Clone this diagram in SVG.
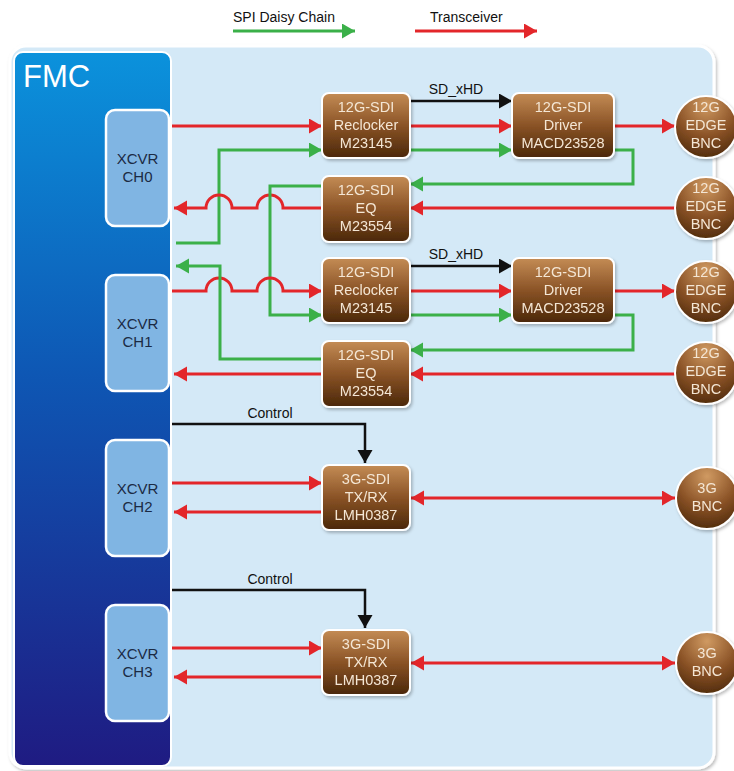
<svg xmlns="http://www.w3.org/2000/svg" width="734" height="771" viewBox="0 0 734 771">
<style>
text{font-family:"Liberation Sans",Arial,sans-serif}
.lbl{font-size:14px;fill:#111}
.xt{font-size:15px;fill:#1b2a44;text-anchor:middle}
.bt{font-size:14.5px;fill:#f4e6d4;text-anchor:middle}
.box{fill:url(#brown);stroke:#fff;stroke-width:2}
.bnc{fill:url(#brownR);stroke:#fff;stroke-width:2}
.xcvr{fill:#80b5e3;stroke:#fff;stroke-width:2.5}
.r{stroke:#e3262a;stroke-width:3;fill:none}
.g{stroke:#3bb049;stroke-width:3;fill:none}
.k{stroke:#111;stroke-width:2.5;fill:none}
.ra{marker-end:url(#mr)}
.ga{marker-end:url(#mg)}
.ka{marker-end:url(#mk)}
.rd{marker-start:url(#mr);marker-end:url(#mr)}
</style>
<defs>
<linearGradient id="brown" x1="0" y1="0" x2="0" y2="1">
<stop offset="0" stop-color="#c48c55"/>
<stop offset="0.5" stop-color="#8a5326"/>
<stop offset="1" stop-color="#4a2709"/>
</linearGradient>
<radialGradient id="brownR" cx="0.5" cy="0.15" r="0.9">
<stop offset="0" stop-color="#d09a62"/>
<stop offset="0.55" stop-color="#8a5226"/>
<stop offset="1" stop-color="#4a2709"/>
</radialGradient>
<linearGradient id="fmc" x1="0" y1="0" x2="0" y2="1">
<stop offset="0" stop-color="#0b92dc"/>
<stop offset="0.45" stop-color="#0e57b4"/>
<stop offset="1" stop-color="#1f1b82"/>
</linearGradient>
<filter id="sh" x="-10%" y="-10%" width="130%" height="130%">
<feDropShadow dx="1.5" dy="2" stdDeviation="1.5" flood-color="#000" flood-opacity="0.25"/>
</filter>
<marker id="mr" markerUnits="userSpaceOnUse" markerWidth="14" markerHeight="16" refX="13" refY="7.5" orient="auto-start-reverse"><path d="M0,0 L13,7.5 L0,15 z" fill="#e3262a"/></marker>
<marker id="mg" markerUnits="userSpaceOnUse" markerWidth="14" markerHeight="16" refX="13" refY="7.5" orient="auto-start-reverse"><path d="M0,0 L13,7.5 L0,15 z" fill="#3bb049"/></marker>
<marker id="mk" markerUnits="userSpaceOnUse" markerWidth="14" markerHeight="16" refX="13" refY="7.5" orient="auto-start-reverse"><path d="M0,0 L13,7.5 L0,15 z" fill="#111"/></marker>
</defs>
<rect width="734" height="771" fill="#fff"/>
<!-- legend -->
<g id="legend">
<text class="lbl" x="233" y="22">SPI Daisy Chain</text>
<line class="g ga" x1="233" y1="31" x2="355" y2="31"/>
<text class="lbl" x="430" y="22">Transceiver</text>
<line class="r ra" x1="415" y1="31" x2="537" y2="31"/>
</g>
<!-- board panel -->
<rect id="panel" x="10" y="46" width="704" height="722" rx="16" fill="#d4e9f7" stroke="#fff" stroke-width="3" filter="url(#sh)"/>
<g id="fmc-block">
<rect x="14" y="52" width="157" height="714" rx="9" fill="url(#fmc)" stroke="#fff" stroke-width="2"/>
<text x="23" y="87" font-size="31" fill="#fff">FMC</text>
</g>
<g id="xcvr0"><rect class="xcvr" x="106" y="110" width="63" height="116" rx="9"/><text class="xt" x="137.5" y="164">XCVR</text><text class="xt" x="137.5" y="182">CH0</text></g>
<g id="xcvr1"><rect class="xcvr" x="106" y="275" width="63" height="116" rx="9"/><text class="xt" x="137.5" y="329">XCVR</text><text class="xt" x="137.5" y="347">CH1</text></g>
<g id="xcvr2"><rect class="xcvr" x="106" y="440" width="63" height="116" rx="9"/><text class="xt" x="137.5" y="494">XCVR</text><text class="xt" x="137.5" y="512">CH2</text></g>
<g id="xcvr3"><rect class="xcvr" x="106" y="605" width="63" height="116" rx="9"/><text class="xt" x="137.5" y="659">XCVR</text><text class="xt" x="137.5" y="677">CH3</text></g>

<!-- connectors -->
<g id="connectors">
<!-- group 0 -->
<line class="r ra" x1="172" y1="126" x2="322" y2="126"/>
<polyline class="g ga" points="176,243 219,243 219,150 322,150"/>
<line class="k ka" x1="410" y1="101" x2="512" y2="101"/>
<line class="r ra" x1="410" y1="126" x2="512" y2="126"/>
<line class="g ga" x1="410" y1="150" x2="512" y2="150"/>
<line class="r ra" x1="614" y1="126" x2="675" y2="126"/>
<polyline class="g ga" points="614,150 633,150 633,184 410,184"/>
<line class="r ra" x1="675" y1="208" x2="410" y2="208"/>
<path class="r ra" d="M322,208 H283 A13,13 0 0 0 257,208 H232 A13,13 0 0 0 206,208 H174"/>
<polyline class="g ga" points="322,186 270,186 270,315 322,315"/>
<!-- group 1 -->
<path class="r ra" d="M172,291 H206 A13,13 0 0 1 232,291 H257 A13,13 0 0 1 283,291 H322"/>
<polyline class="g ga" points="322,359 220,359 220,266 176,266"/>
<line class="k ka" x1="410" y1="266" x2="512" y2="266"/>
<line class="r ra" x1="410" y1="291" x2="512" y2="291"/>
<line class="g ga" x1="410" y1="315" x2="512" y2="315"/>
<line class="r ra" x1="614" y1="291" x2="675" y2="291"/>
<polyline class="g ga" points="614,315 633,315 633,350 410,350"/>
<line class="r ra" x1="675" y1="374" x2="410" y2="374"/>
<line class="r ra" x1="322" y1="374" x2="174" y2="374"/>
<!-- group 2 -->
<polyline class="k ka" points="172,424 365,424 365,463"/>
<line class="r ra" x1="172" y1="483" x2="322" y2="483"/>
<line class="r ra" x1="322" y1="512" x2="174" y2="512"/>
<line class="r rd" x1="411" y1="498" x2="675" y2="498"/>
<!-- group 3 -->
<polyline class="k ka" points="172,590 365,590 365,628"/>
<line class="r ra" x1="172" y1="648" x2="322" y2="648"/>
<line class="r ra" x1="322" y1="677" x2="174" y2="677"/>
<line class="r rd" x1="411" y1="663" x2="675" y2="663"/>
<text class="lbl" x="456" y="94" text-anchor="middle">SD_xHD</text>
<text class="lbl" x="456" y="259" text-anchor="middle">SD_xHD</text>
<text class="lbl" x="270" y="418" text-anchor="middle">Control</text>
<text class="lbl" x="270" y="584" text-anchor="middle">Control</text>
</g>

<!-- brown nodes -->
<g id="reclocker0" filter="url(#sh)"><rect class="box" x="322" y="93" width="88" height="65" rx="7"/><text class="bt" x="366" y="112">12G-SDI</text><text class="bt" x="366" y="130">Reclocker</text><text class="bt" x="366" y="148">M23145</text></g>
<g id="driver0" filter="url(#sh)"><rect class="box" x="512" y="93" width="102" height="65" rx="7"/><text class="bt" x="563" y="112">12G-SDI</text><text class="bt" x="563" y="130">Driver</text><text class="bt" x="563" y="148">MACD23528</text></g>
<g id="eq0" filter="url(#sh)"><rect class="box" x="322" y="176" width="88" height="66" rx="7"/><text class="bt" x="366" y="195">12G-SDI</text><text class="bt" x="366" y="213">EQ</text><text class="bt" x="366" y="231">M23554</text></g>
<g id="reclocker1" filter="url(#sh)"><rect class="box" x="322" y="258" width="88" height="65" rx="7"/><text class="bt" x="366" y="277">12G-SDI</text><text class="bt" x="366" y="295">Reclocker</text><text class="bt" x="366" y="313">M23145</text></g>
<g id="driver1" filter="url(#sh)"><rect class="box" x="512" y="258" width="102" height="65" rx="7"/><text class="bt" x="563" y="277">12G-SDI</text><text class="bt" x="563" y="295">Driver</text><text class="bt" x="563" y="313">MACD23528</text></g>
<g id="eq1" filter="url(#sh)"><rect class="box" x="322" y="341" width="88" height="66" rx="7"/><text class="bt" x="366" y="360">12G-SDI</text><text class="bt" x="366" y="378">EQ</text><text class="bt" x="366" y="396">M23554</text></g>
<g id="sdi3g0" filter="url(#sh)"><rect class="box" x="322" y="465" width="88" height="65" rx="7"/><text class="bt" x="366" y="484">3G-SDI</text><text class="bt" x="366" y="502">TX/RX</text><text class="bt" x="366" y="520">LMH0387</text></g>
<g id="sdi3g1" filter="url(#sh)"><rect class="box" x="322" y="630" width="88" height="65" rx="7"/><text class="bt" x="366" y="649">3G-SDI</text><text class="bt" x="366" y="667">TX/RX</text><text class="bt" x="366" y="685">LMH0387</text></g>

<!-- BNC circles -->
<g id="bnc0" filter="url(#sh)"><circle class="bnc" cx="706" cy="127" r="31"/><text class="bt" x="706" y="112">12G</text><text class="bt" x="706" y="130">EDGE</text><text class="bt" x="706" y="148">BNC</text></g>
<g id="bnc1" filter="url(#sh)"><circle class="bnc" cx="706" cy="208" r="31"/><text class="bt" x="706" y="193">12G</text><text class="bt" x="706" y="211">EDGE</text><text class="bt" x="706" y="229">BNC</text></g>
<g id="bnc2" filter="url(#sh)"><circle class="bnc" cx="706" cy="292" r="31"/><text class="bt" x="706" y="277">12G</text><text class="bt" x="706" y="295">EDGE</text><text class="bt" x="706" y="313">BNC</text></g>
<g id="bnc3" filter="url(#sh)"><circle class="bnc" cx="706" cy="373" r="31"/><text class="bt" x="706" y="358">12G</text><text class="bt" x="706" y="376">EDGE</text><text class="bt" x="706" y="394">BNC</text></g>
<g id="bnc4" filter="url(#sh)"><circle class="bnc" cx="707" cy="498" r="31"/><text class="bt" x="707" y="493">3G</text><text class="bt" x="707" y="511">BNC</text></g>
<g id="bnc5" filter="url(#sh)"><circle class="bnc" cx="707" cy="663" r="31"/><text class="bt" x="707" y="658">3G</text><text class="bt" x="707" y="676">BNC</text></g>
</svg>
